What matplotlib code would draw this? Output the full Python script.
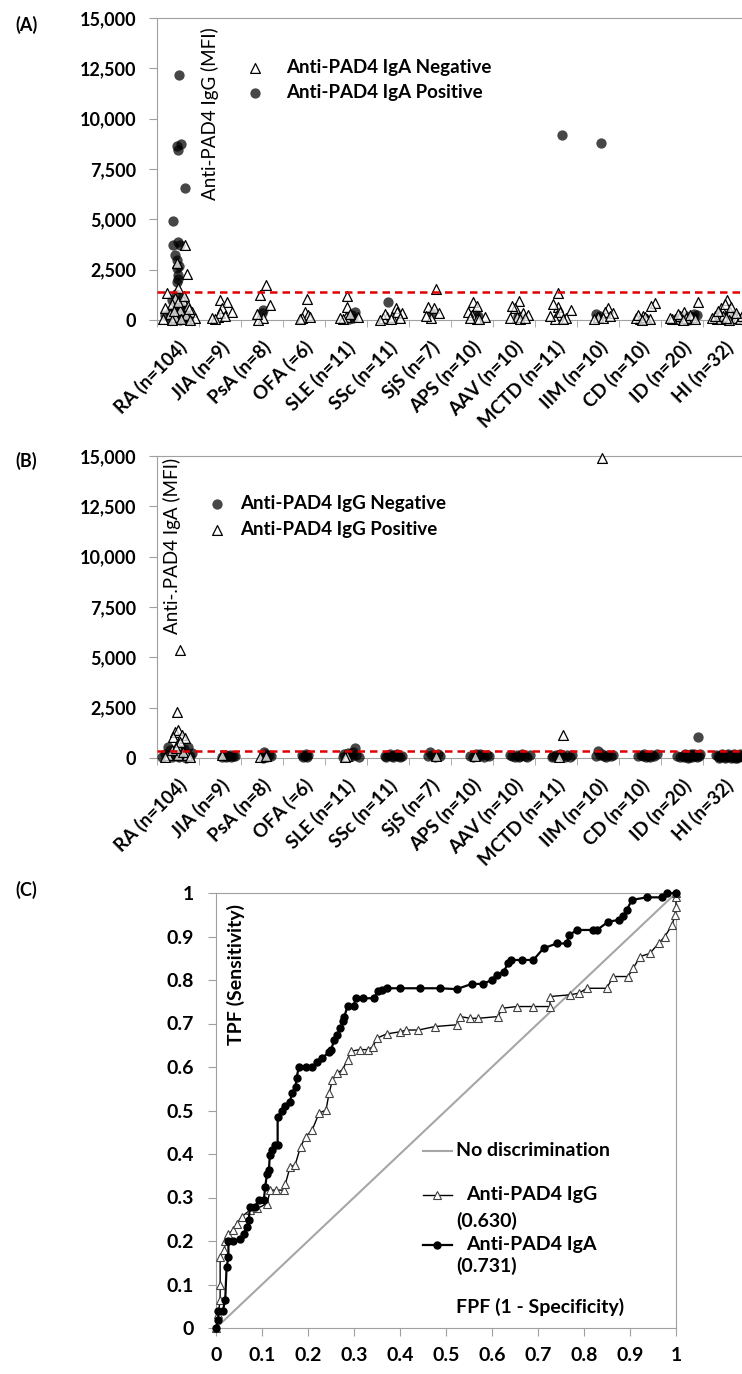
import numpy as np
import matplotlib
matplotlib.use('Agg')
import matplotlib.pyplot as plt
from matplotlib.ticker import FuncFormatter

plt.rcParams['font.family'] = ['Lato', 'DejaVu Sans']

#%% data
categories = ['RA (n=104)', 'JIA (n=9)', 'PsA (n=8)', 'OFA (=6)', 'SLE (n=11)',
              'SSc (n=11)', 'SjS (n=7)', 'APS (n=10)', 'AAV (n=10)', 'MCTD (n=11)',
              'IIM (n=10)', 'CD (n=10)', 'ID (n=20)', 'HI (n=32)']

# panel A: anti-PAD4 IgG MFI, (offset inside category, value), split by IgA status
a_iga_neg = [
    [(0.17, 3725), (0.21, 2300), (-0.02, 2830), (0.0, 1590), (-0.26, 1340), (-0.07, 1100),
     (0.12, 950), (-0.14, 800), (0.24, 700), (-0.31, 600), (0.05, 500), (0.33, 400),
     (-0.19, 300), (0.19, 250), (-0.07, 150), (0.4, 100), (-0.36, 50), (0.07, 30),
     (0.29, 20), (-0.14, 10), (0.0, 900), (0.14, 1200), (-0.1, 450), (0.26, 550)],
    [(0.0, 1000), (0.17, 900), (0.05, 600), (0.29, 400), (-0.05, 150), (0.0, 350),
     (-0.12, 50), (0.12, 200), (-0.19, 100)],
    [(-0.05, 1240), (0.1, 1740), (0.19, 750), (0.02, 100), (-0.1, 20), (-0.12, 300)],
    [(0.07, 1040), (0.02, 400), (0.1, 250), (-0.05, 100), (-0.1, 50), (0.14, 150)],
    [(0.02, 1190), (0.02, 650), (0.0, 150), (0.29, 150), (-0.07, 50), (0.1, 300), (-0.14, 100)],
    [(0.19, 600), (0.33, 350), (-0.02, 150), (0.1, 150), (-0.12, 100), (0.21, 400),
     (-0.07, 300), (0.07, 50), (-0.19, 20), (0.29, 100)],
    [(0.14, 1540), (-0.05, 650), (0.1, 600), (0.21, 350), (0.02, 100), (-0.1, 200)],
    [(0.02, 900), (0.12, 700), (0.0, 250), (0.12, 50), (0.31, 150), (0.17, 30),
     (-0.1, 400), (-0.05, 100)],
    [(0.12, 940), (0.02, 600), (0.21, 350), (0.33, 250), (0.07, 150), (0.14, 50),
     (-0.05, 700), (-0.1, 100), (0.26, 100)],
    [(0.05, 1340), (0.05, 650), (0.36, 500), (0.02, 250), (0.24, 100), (-0.02, 50),
     (0.1, 400), (-0.14, 200), (0.17, 30), (-0.07, 800)],
    [(0.24, 600), (0.36, 350), (0.0, 150), (0.17, 400), (0.12, 100), (-0.1, 50), (0.29, 200)],
    [(0.36, 850), (0.26, 700), (0.07, 200), (0.0, 50), (0.17, 50), (-0.1, 100),
     (0.12, 150), (0.24, 30), (-0.05, 250), (0.05, 20)],
    [(0.38, 900), (-0.17, 50), (0.05, 400), (0.14, 50), (-0.05, 200), (-0.24, 30),
     (0.24, 150), (-0.1, 300), (0.1, 100), (0.02, 20), (0.19, 250), (-0.29, 100), (0.31, 50)],
    [(0.07, 1000), (-0.07, 600), (-0.17, 50), (0.07, 50), (0.21, 250), (0.33, 150),
     (0.02, 800), (0.14, 400), (-0.29, 100), (0.26, 100), (0.38, 50), (-0.1, 300),
     (-0.02, 200), (0.12, 20), (-0.21, 200), (0.43, 200), (0.17, 650), (-0.14, 450),
     (0.29, 350), (0.05, 120)],
]
a_iga_pos = [
    [(0.02, 12150), (-0.02, 8640), (0.07, 8740), (0.0, 8440), (0.17, 6550), (-0.12, 4900),
     (-0.12, 3750), (0.0, 3850), (0.05, 3750), (-0.07, 3230), (-0.02, 2980), (-0.02, 2580),
     (0.02, 2700), (0.0, 2235), (-0.02, 1890), (0.0, 2050), (-0.31, 250), (-0.14, 1000),
     (-0.05, 800), (0.05, 700), (0.12, 600), (-0.07, 500), (0.17, 450), (-0.19, 400),
     (0.24, 350), (0.0, 300), (0.07, 200), (-0.1, 150), (0.19, 100), (-0.02, 50),
     (0.12, 30), (-0.17, 20), (0.26, 10), (0.05, 5), (0.1, 1100), (-0.05, 1300)],
    [],
    [(0.02, 500), (0.0, 350)],
    [],
    [(0.21, 400), (0.14, 250), (0.07, 30), (0.17, 100)],
    [(0.0, 900)],
    [(0.05, 350)],
    [(0.07, 300), (0.14, 200)],
    [(0.1, 200)],
    [(0.14, 9190)],
    [(0.07, 8800), (-0.05, 300), (0.05, 200)],
    [],
    [(0.36, 250), (0.26, 150), (0.19, 80), (0.1, 200), (-0.05, 100), (0.29, 300), (0.14, 20)],
    [(0.14, 300), (0.02, 150), (0.26, 200), (-0.1, 50)],
]

# panel B: anti-PAD4 IgA MFI, split by IgG status
b_igg_neg = [
    [(-0.24, 550), (0.24, 550), (-0.31, 200), (0.12, 200), (0.29, 100), (-0.14, 50),
     (0.0, 100), (-0.07, 300), (0.19, 20), (-0.19, 400), (0.07, 350), (-0.05, 150),
     (0.33, 250), (-0.38, 50), (0.14, 450), (0.02, 30)],
    [(0.12, 150), (0.24, 150), (0.19, 80), (0.31, 120), (0.05, 50), (0.36, 100),
     (0.14, 30), (0.26, 60)],
    [(0.17, 150), (0.05, 300), (0.12, 50), (0.21, 100), (0.07, 200), (0.02, 20)],
    [(-0.05, 150), (0.02, 100), (0.1, 150), (-0.02, 50), (0.07, 50), (0.05, 200)],
    [(0.21, 500), (0.31, 50), (0.1, 150), (0.14, 100), (-0.05, 200), (0.05, 250),
     (0.17, 300), (0.24, 150), (-0.07, 50)],
    [(0.0, 150), (0.1, 100), (0.17, 150), (0.24, 100), (0.33, 100), (-0.07, 100),
     (0.05, 200), (0.29, 50), (0.12, 50), (-0.05, 50), (0.21, 200)],
    [(0.05, 150), (0.24, 100), (-0.05, 100), (0.12, 50), (0.19, 200), (0.0, 300)],
    [(0.24, 150), (0.36, 150), (0.14, 100), (0.29, 50), (-0.05, 100), (0.19, 200),
     (0.02, 50), (0.1, 200), (0.4, 100)],
    [(0.07, 150), (0.14, 100), (0.26, 100), (0.38, 150), (-0.05, 100), (0.19, 200),
     (0.02, 50), (0.31, 50), (0.12, 30), (-0.1, 150)],
    [(0.0, 150), (0.26, 150), (0.38, 150), (-0.07, 100), (0.14, 100), (0.33, 50),
     (0.1, 200), (0.21, 50), (-0.1, 50)],
    [(0.05, 150), (0.14, 100), (0.24, 150), (0.36, 150), (0.0, 350), (0.19, 50),
     (0.31, 100), (0.1, 200), (-0.05, 100)],
    [(0.07, 100), (0.19, 100), (0.29, 150), (0.4, 200), (0.14, 50), (0.24, 50),
     (0.02, 150), (0.33, 100), (0.1, 200), (-0.05, 100)],
    [(0.38, 1040), (-0.12, 100), (0.12, 100), (0.19, 150), (0.26, 150), (0.33, 150),
     (0.43, 200), (0.05, 50), (0.17, 50), (0.24, 50), (0.31, 100), (0.1, 150),
     (0.21, 200), (-0.05, 50), (0.36, 50), (0.02, 100), (0.14, 0), (0.29, 200),
     (0.4, 100), (0.07, 200)],
    [(-0.14, 100), (-0.07, 150), (0.0, 100), (0.07, 150), (0.14, 100), (0.21, 150),
     (0.29, 100), (0.36, 150), (0.43, 100), (-0.1, 50), (0.05, 50), (0.19, 50),
     (0.33, 50), (-0.19, 150), (-0.05, 200), (0.1, 200), (0.24, 200), (0.38, 200),
     (-0.12, 0), (0.02, 0), (0.17, 0), (0.31, 0), (0.45, 50), (0.26, 20)],
]
b_igg_pos = [
    [(0.05, 5350), (-0.02, 2290), (-0.07, 1290), (0.0, 1390), (0.1, 1140), (0.17, 990),
     (-0.12, 1050), (-0.02, 650), (-0.24, 150), (0.0, 150), (0.21, 150), (0.05, 800),
     (-0.14, 400), (0.12, 300), (-0.31, 50), (0.29, 50), (-0.05, 500)],
    [(0.05, 150)],
    [(-0.05, 50), (0.1, 100)],
    [],
    [(0.02, 100), (-0.02, 50)],
    [],
    [(0.14, 100)],
    [(0.07, 80)],
    [],
    [(0.17, 1140), (0.07, 30)],
    [(0.1, 14900)],
    [],
    [],
    [],
]
igg_cutoff = 1400
iga_cutoff = 350

# panel C: ROC curves (FPF, TPF)
roc_igg = [(0, 0), (0.005, 0.033), (0.009, 0.064), (0.009, 0.1), (0.009, 0.163), (0.018, 0.179),
           (0.02, 0.2), (0.027, 0.217), (0.038, 0.225), (0.045, 0.24), (0.056, 0.256),
           (0.074, 0.271), (0.09, 0.275), (0.111, 0.286), (0.118, 0.317), (0.13, 0.317),
           (0.147, 0.317), (0.151, 0.332), (0.161, 0.37), (0.172, 0.375), (0.184, 0.417),
           (0.195, 0.44), (0.209, 0.455), (0.224, 0.494), (0.239, 0.501), (0.246, 0.54),
           (0.253, 0.57), (0.264, 0.586), (0.275, 0.594), (0.286, 0.617), (0.293, 0.636),
           (0.312, 0.64), (0.33, 0.64), (0.342, 0.647), (0.349, 0.666), (0.371, 0.676),
           (0.4, 0.681), (0.414, 0.685), (0.44, 0.685), (0.476, 0.693), (0.523, 0.697),
           (0.53, 0.716), (0.553, 0.712), (0.57, 0.712), (0.614, 0.716), (0.621, 0.735),
           (0.654, 0.739), (0.69, 0.739), (0.726, 0.739), (0.726, 0.762), (0.77, 0.766),
           (0.79, 0.77), (0.806, 0.781), (0.849, 0.781), (0.864, 0.808), (0.896, 0.808),
           (0.907, 0.827), (0.922, 0.854), (0.943, 0.861), (0.962, 0.884), (0.976, 0.9),
           (0.991, 0.926), (0.998, 0.949), (1.0, 0.968), (1.0, 0.99), (1.0, 1.0)]
roc_iga = [(0, 0), (0.005, 0.018), (0.005, 0.04), (0.015, 0.04), (0.02, 0.064), (0.023, 0.14),
           (0.027, 0.163), (0.027, 0.2), (0.038, 0.2), (0.053, 0.205), (0.06, 0.217),
           (0.067, 0.233), (0.071, 0.248), (0.074, 0.279), (0.085, 0.279), (0.093, 0.294),
           (0.104, 0.294), (0.107, 0.325), (0.111, 0.355), (0.115, 0.363), (0.117, 0.397),
           (0.122, 0.409), (0.129, 0.42), (0.134, 0.42), (0.134, 0.486), (0.143, 0.498),
           (0.15, 0.51), (0.161, 0.52), (0.165, 0.54), (0.173, 0.555), (0.175, 0.574),
           (0.18, 0.6), (0.195, 0.6), (0.209, 0.6), (0.22, 0.612), (0.231, 0.62),
           (0.246, 0.635), (0.25, 0.639), (0.257, 0.662), (0.264, 0.674), (0.27, 0.689),
           (0.277, 0.705), (0.279, 0.716), (0.286, 0.74), (0.299, 0.74), (0.304, 0.758),
           (0.32, 0.758), (0.343, 0.758), (0.352, 0.774), (0.36, 0.777), (0.371, 0.781),
           (0.4, 0.781), (0.443, 0.781), (0.487, 0.781), (0.523, 0.779), (0.556, 0.791),
           (0.581, 0.791), (0.599, 0.8), (0.61, 0.811), (0.625, 0.819), (0.635, 0.838),
           (0.642, 0.846), (0.665, 0.846), (0.69, 0.846), (0.712, 0.873), (0.741, 0.884),
           (0.762, 0.884), (0.768, 0.903), (0.784, 0.915), (0.82, 0.915), (0.828, 0.915),
           (0.853, 0.934), (0.875, 0.938), (0.885, 0.946), (0.893, 0.961), (0.904, 0.984),
           (0.936, 0.99), (0.969, 0.99), (0.98, 0.999), (1.0, 1.0)]

#%% styling helpers
GRAY = '#a0a0a0'
W, H = 742, 1374


def px_axes(left, top, right, bottom):
    return [left / W, 1 - bottom / H, (right - left) / W, (bottom - top) / H]


def flatten(groups):
    xs, ys = [], []
    for i, pts in enumerate(groups):
        for dx, v in pts:
            xs.append(i + 0.5 + dx)
            ys.append(v)
    return xs, ys


def style_mfi_axes(ax):
    ax.set_xlim(0, len(categories))
    ax.set_ylim(0, 15000)
    ax.set_yticks(np.arange(0, 15001, 2500))
    ax.yaxis.set_major_formatter(FuncFormatter(lambda v, p: f'{int(v):,}'))
    ax.set_xticks(np.arange(len(categories)) + 0.5)
    ax.set_xticklabels(categories, rotation=45, ha='right', rotation_mode='anchor',
                       fontweight='bold', fontsize=13.5)
    ax.set_xticks(np.arange(len(categories) + 1), minor=True)
    ax.tick_params(axis='x', which='major', length=0, pad=13)
    ax.tick_params(axis='x', which='minor', length=5, color=GRAY, direction='out')
    ax.tick_params(axis='y', length=6, color=GRAY, labelsize=13, pad=9)
    for lab in ax.get_yticklabels():
        lab.set_fontweight('bold')
    for s in ['left', 'bottom', 'top']:
        ax.spines[s].set_color(GRAY)
    ax.spines['right'].set_visible(False)


fig = plt.figure(figsize=(W / 100, H / 100), dpi=100)

tri_kw = dict(marker='^', s=50, facecolors=(1, 1, 1, 0.75), edgecolors='black',
              linewidths=0.9, clip_on=False, zorder=4)
dot_kw = dict(marker='o', s=55, color='black', alpha=0.72, linewidths=0,
              clip_on=False, zorder=3)
leg_font = dict(weight='bold', size=13.5)

#%% panel A
axA = fig.add_axes(px_axes(157, 18, 745, 320))
x, y = flatten(a_iga_pos)
axA.scatter(x, y, label='Anti-PAD4 IgA Positive', **dot_kw)
x, y = flatten(a_iga_neg)
axA.scatter(x, y, label='Anti-PAD4 IgA Negative', **tri_kw)
axA.axhline(igg_cutoff, color='#e00000', ls=(0, (3, 2)), lw=1.8, zorder=5)
style_mfi_axes(axA)
axA.text(0.09, 0.968, 'Anti-PAD4 IgG (MFI)', transform=axA.transAxes, rotation=90,
         ha='center', va='top', fontsize=13.5)
h, l = axA.get_legend_handles_labels()
axA.legend(h[::-1], l[::-1], loc='upper left', bbox_to_anchor=(0.156, 0.865),
           frameon=False, prop=leg_font, handlelength=0.71,
           handletextpad=1.29, labelspacing=0.45, borderpad=0, borderaxespad=0)

#%% panel B
axB = fig.add_axes(px_axes(157, 456, 745, 758))
x, y = flatten(b_igg_neg)
axB.scatter(x, y, label='Anti-PAD4 IgG Negative', **dot_kw)
x, y = flatten(b_igg_pos)
axB.scatter(x, y, label='Anti-PAD4 IgG Positive', **tri_kw)
axB.axhline(iga_cutoff, color='#e00000', ls=(0, (3, 2)), lw=1.8, zorder=5)
style_mfi_axes(axB)
axB.text(0.026, 0.995, 'Anti-.PAD4 IgA (MFI)', transform=axB.transAxes, rotation=90,
         ha='center', va='top', fontsize=13.5)
axB.legend(loc='upper left', bbox_to_anchor=(0.091, 0.87),
           frameon=False, prop=leg_font, handlelength=0.71,
           handletextpad=0.87, labelspacing=0.45, borderpad=0, borderaxespad=0)

#%% panel C
axC = fig.add_axes(px_axes(216, 893, 676, 1328))
axC.plot([0, 1], [0, 1], color='#a6a6a6', lw=1.5, zorder=2)
fx, ty = zip(*roc_igg)
axC.plot(fx, ty, color='black', lw=1, marker='^', ms=5.5, mfc='white', mec='#404040',
         mew=0.8, clip_on=False, zorder=3)
fx, ty = zip(*roc_iga)
axC.plot(fx, ty, color='black', lw=1.6, marker='o', ms=5, mfc='black', mec='black',
         clip_on=False, zorder=4)
axC.set_xlim(0, 1)
axC.set_ylim(0, 1)
ticks = np.round(np.arange(0, 1.01, 0.1), 1)
tick_labels = ['0' if t == 0 else '1' if t == 1 else f'{t:g}' for t in ticks]
axC.set_xticks(ticks, tick_labels)
axC.set_yticks(ticks, tick_labels)
axC.tick_params(length=6, color=GRAY, labelsize=14)
axC.tick_params(axis='y', pad=10)
axC.tick_params(axis='x', pad=8)
for lab in axC.get_xticklabels() + axC.get_yticklabels():
    lab.set_fontweight('bold')
for s in axC.spines.values():
    s.set_color(GRAY)

txt = dict(transform=axC.transAxes, fontsize=14, fontweight='bold')
axC.text(0.043, 0.975, 'TPF (Sensitivity)', rotation=90, ha='center', va='top', **txt)
axC.text(0.522, 0.048, 'FPF (1 - Specificity)', ha='left', va='center', **txt)

# legend drawn by hand to keep the excel layout
axC.plot([0.45, 0.513], [0.407, 0.407], color='#a6a6a6', lw=1.5, transform=axC.transAxes)
axC.text(0.522, 0.407, 'No discrimination', ha='left', va='center', **txt)
axC.plot([0.45, 0.513], [0.306, 0.306], color='black', lw=1, transform=axC.transAxes)
axC.plot([0.4815], [0.306], marker='^', ms=5.5, mfc='white', mec='#404040', mew=0.8,
         transform=axC.transAxes)
axC.text(0.543, 0.306, 'Anti-PAD4 IgG', ha='left', va='center', **txt)
axC.text(0.522, 0.246, '(0.630)', ha='left', va='center', **txt)
axC.plot([0.45, 0.513], [0.191, 0.191], color='black', lw=1.6, transform=axC.transAxes)
axC.plot([0.4815], [0.191], marker='o', ms=5, color='black', transform=axC.transAxes)
axC.text(0.543, 0.191, 'Anti-PAD4 IgA', ha='left', va='center', **txt)
axC.text(0.522, 0.1425, '(0.731)', ha='left', va='center', **txt)

#%% panel letters
for label, ypx in [('(A)', 25), ('(B)', 461), ('(C)', 890)]:
    fig.text(15 / W, 1 - ypx / H, label, ha='left', va='center', fontsize=13,
             fontweight='bold')

fig.savefig('out.png', dpi=100)
